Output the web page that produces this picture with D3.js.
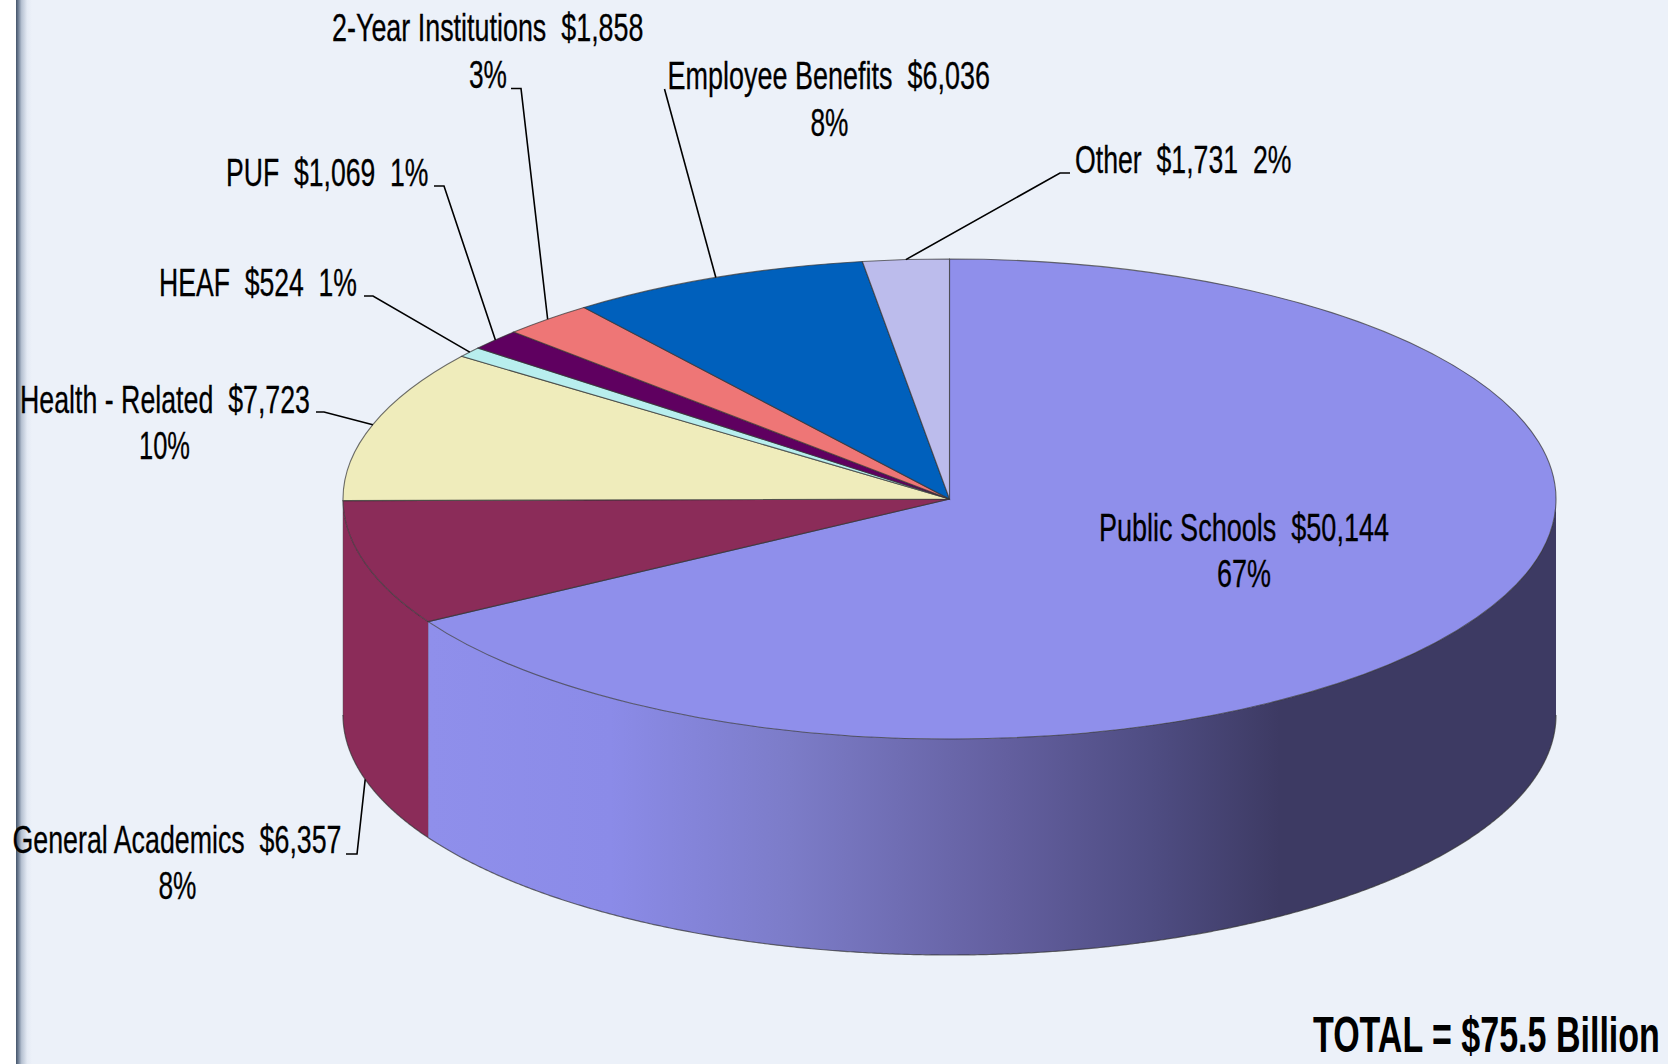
<!DOCTYPE html>
<html>
<head>
<meta charset="utf-8">
<script src="https://cdn.jsdelivr.net/npm/d3@7"></script>
<style>
html,body{margin:0;padding:0;background:#fff;overflow:hidden}
svg{display:block}
text{font-family:"Liberation Sans",Arial,sans-serif;fill:#000;white-space:pre}
</style>
</head>
<body>
<svg id="chart" width="1668" height="1064"></svg>
<script>
// ---- data ----
const categories = ["Public Schools","General Academics","Health - Related","HEAF","PUF","2-Year Institutions","Employee Benefits","Other"];
const amounts    = [50144,6357,7723,524,1069,1858,6036,1731];
const percents   = ["67%","8%","10%","1%","1%","3%","8%","2%"];
const sliceColors= ["#8F8FEB","#8B2C59","#EFECBB","#B8EEEE","#5F0060","#EE7676","#0060BC","#BCBCEC"];
const totalLabel = "TOTAL = $75.5 Billion";

// ---- layout ----
const W=1668,H=1064;
const cx=949.5,cy=499,rx=606.5,ry=240,depth=216;
// lines: [text, left, right, baseline]; elbow: leader bend points from label to slice
const fmt=d3.format("$,");
const lbl=i=>`${categories[i]}  ${fmt(amounts[i])}`;
const labelLayout=[
 {lines:[[lbl(0),1099,1389,541],[percents[0],1217,1271,587]],elbow:null},
 {lines:[[lbl(1),12.5,341.5,853],[percents[1],158.5,196.5,899]],elbow:[[346,854],[357,854]],wall:true},
 {lines:[[lbl(2),20,310,413],[percents[2],139,190,459]],elbow:[[316,412],[324,412]]},
 {lines:[[`${lbl(3)}  ${percents[3]}`,159,357,296]],elbow:[[364,296],[373,296]]},
 {lines:[[`${lbl(4)}  ${percents[4]}`,226,428.5,186]],elbow:[[434,186],[444,186]]},
 {lines:[[lbl(5),332,643.5,40.5],[percents[5],469,507,88]],elbow:[[511,88.5],[521,88.5]]},
 {lines:[[lbl(6),667.5,990,89],[percents[6],810.5,848.5,136]],elbow:[[664.5,89]]},
 {lines:[[`${lbl(7)}  ${percents[7]}`,1075,1291.5,173]],elbow:[[1070,173],[1060,173]]},
];
const wallStops=[[429,"#8F8FEB"],[610,"#8B8BE8"],[790,"#7C7CC8"],[1006,"#635F9F"],[1150,"#4F4D83"],[1280,"#3D3A63"],[1557,"#3D3A63"]];

const svg=d3.select("#chart");
const defs=svg.append("defs");

// background and left stripe
const stripe=defs.append("linearGradient").attr("id","stripe");
stripe.selectAll("stop").data([[0,"#44546a"],[0.15,"#6f7f95"],[0.35,"#b7c2d2"],[0.7,"#E4EAF4"],[1,"#ECF1F9"]]).join("stop")
  .attr("offset",d=>d[0]).attr("stop-color",d=>d[1]);
svg.append("rect").attr("width",W).attr("height",H).attr("fill","#fff");
svg.append("rect").attr("x",16).attr("width",W-16).attr("height",H).attr("fill","#ECF1F9");
svg.append("rect").attr("x",16).attr("width",16).attr("height",H).attr("fill","url(#stripe)");

// wall gradient
const wg=defs.append("linearGradient").attr("id","wall").attr("gradientUnits","userSpaceOnUse")
  .attr("x1",429).attr("x2",1557).attr("y1",0).attr("y2",0);
wg.selectAll("stop").data(wallStops).join("stop")
  .attr("offset",d=>(d[0]-429)/(1557-429)).attr("stop-color",d=>d[1]);

// pie
const pie=d3.pie().value(d=>d).sort(null)(amounts);
const px=a=>cx+rx*Math.sin(a), py=a=>cy-ry*Math.cos(a);

// side walls: visible front half of the ellipse only
const area=d3.area().x(px).y0(py).y1(a=>py(a)+depth);
const wallG=svg.append("g");
pie.forEach((s,i)=>{
  const a0=Math.max(s.startAngle,Math.PI/2), a1=Math.min(s.endAngle,3*Math.PI/2);
  if(a1<=a0) return;
  const samples=d3.range(a0,a1,0.005).concat([a1]);
  wallG.append("path").attr("d",area(samples))
    .attr("fill",i===0?"url(#wall)":sliceColors[i]);
  wallG.append("path").attr("d",d3.line().x(px).y(a=>py(a)+depth)(samples))
    .attr("fill","none").attr("stroke","#333").attr("stroke-opacity",0.7).attr("stroke-width",1.2);
  wallG.append("line").attr("x1",px(a1)).attr("x2",px(a1)).attr("y1",py(a1)).attr("y2",py(a1)+depth)
    .attr("stroke","#444").attr("stroke-opacity",a1<3*Math.PI/2?0.5:0).attr("stroke-width",0.8);
});

// top face
const arc=d3.arc().innerRadius(0).outerRadius(rx);
svg.append("g").attr("transform",`translate(${cx},${cy}) scale(1,${ry/rx})`)
  .selectAll("path").data(pie).join("path")
  .attr("d",arc).attr("fill",(d,i)=>sliceColors[i])
  .attr("stroke","#333").attr("stroke-opacity",0.7).attr("stroke-width",1.1)
  .attr("vector-effect","non-scaling-stroke");

// leader lines from mid-angle of each slice
const leader=d3.line();
labelLayout.forEach((l,i)=>{
  if(!l.elbow) return;
  const m=(pie[i].startAngle+pie[i].endAngle)/2;
  const pts=l.elbow.concat([[px(m),py(m)+(l.wall?depth:0)]]);
  svg.append("path").attr("d",leader(pts)).attr("fill","none").attr("stroke","#000").attr("stroke-width",1.6);
});

// labels, condensed to match the reference
labelLayout.forEach(l=>{
  svg.append("g").selectAll("text").data(l.lines).join("text")
    .attr("x",d=>d[1]).attr("y",d=>d[3])
    .attr("font-size",39)
    .attr("stroke","#000").attr("stroke-width",0.3)
    .attr("textLength",d=>d[2]-d[1]).attr("lengthAdjust","spacingAndGlyphs")
    .text(d=>d[0]);
});
const total=svg.append("text").attr("font-size",50).attr("font-weight","bold").text(totalLabel);
const totalScale=347/total.node().getComputedTextLength();
total.attr("transform",`translate(1313,1052) scale(${totalScale},1)`);
</script>
</body>
</html>
